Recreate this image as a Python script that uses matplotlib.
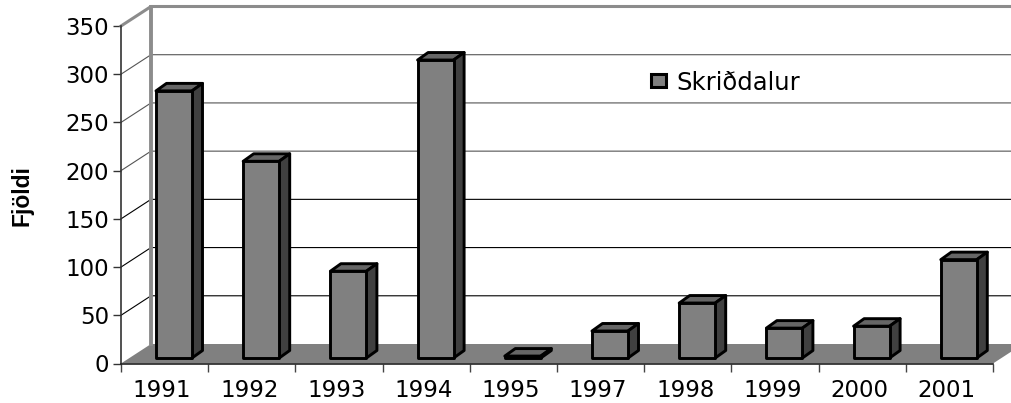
import matplotlib
matplotlib.use("Agg")
import matplotlib.pyplot as plt
from matplotlib.patches import Polygon, FancyBboxPatch

years = ['1991', '1992', '1993', '1994', '1995', '1997', '1998', '1999', '2000', '2001']
fjoldi = [277, 204, 90, 309, 2, 28, 57, 31, 33, 102]
yticks = [0, 50, 100, 150, 200, 250, 300, 350]

W, H = 1012, 403
x0, x1, y0, y1 = 121, 993, 363.5, 26

plt.rcParams['font.family'] = ['DejaVu Sans']
fig = plt.figure(figsize=(W / 100, H / 100), dpi=100)
ax = fig.add_axes([x0 / W, 1 - y0 / H, (x1 - x0) / W, (y0 - y1) / H])
ax.set_xlim(0, len(years))
ax.set_ylim(0, 350)

# pixels per data unit, for the fake 3d depth
px = (x1 - x0) / len(years)
py = (y0 - y1) / 350
wall_dx, wall_dy = 30 / px, 19.5 / py
bar_w = 36 / px
bar_off = 35 / px
bar_base = 5.5 / py
bar_dx, bar_dy = 10.5 / px, 7.5 / py
n = len(years)

# floor
ax.add_patch(Polygon([(0, 0), (n, 0), (n + wall_dx, wall_dy), (wall_dx, wall_dy)],
                     fc='#808080', ec='none', zorder=1, clip_on=False))

# gridlines
for v in yticks[1:-1]:
    col = '#000000' if v <= 150 else '#555555'
    ax.plot([0, wall_dx, n + wall_dx], [v, v + wall_dy, v + wall_dy], color=col, lw=0.8,
            zorder=2, clip_on=False)

# back wall edges
ax.plot([0, wall_dx, n + wall_dx], [350, 350 + wall_dy, 350 + wall_dy], color='#8c8c8c', lw=2.2,
        zorder=2, clip_on=False, solid_joinstyle='miter')
ax.plot([wall_dx, wall_dx], [wall_dy, 350 + wall_dy], color='#8c8c8c', lw=2.8, zorder=2, clip_on=False)

# bars, front + top + side
for i, v in enumerate(fjoldi):
    l = i + bar_off
    r = l + bar_w
    b = bar_base
    t = bar_base + v
    front = [(l, b), (r, b), (r, t), (l, t)]
    top = [(l, t), (r, t), (r + bar_dx, t + bar_dy), (l + bar_dx, t + bar_dy)]
    side = [(r, b), (r + bar_dx, b + bar_dy), (r + bar_dx, t + bar_dy), (r, t)]
    ax.add_patch(Polygon(top, fc='#666666', ec='black', lw=2.1, joinstyle='round', zorder=3, clip_on=False))
    ax.add_patch(Polygon(side, fc='#404040', ec='black', lw=2.1, joinstyle='round', zorder=3, clip_on=False))
    ax.add_patch(Polygon(front, fc='#808080', ec='black', lw=2.1, joinstyle='round', zorder=4, clip_on=False))

for s in ['top', 'right']:
    ax.spines[s].set_visible(False)
ax.spines['left'].set_color('#333333')
ax.spines['bottom'].set_color('#222222')
ax.spines['left'].set_linewidth(1.2)
ax.spines['bottom'].set_linewidth(1.2)
ax.set_zorder(5)
ax.patch.set_alpha(0)

ax.set_yticks(yticks)
ax.set_xticks(range(n + 1))
ax.set_xticklabels([])
ax.set_xticks([i + 0.47 for i in range(n)], labels=years, minor=True)
ax.tick_params(axis='x', which='minor', length=0, pad=11, labelsize=16.5)
ax.tick_params(axis='x', which='major', length=5.5, width=1, color='#444444')
ax.tick_params(axis='y', length=5.5, width=1, color='#333333', pad=3, labelsize=16.5)

fig.text(22 / W, 1 - 196 / H, 'Fjöldi', rotation=90, ha='center', va='center',
         fontsize=16.5, fontweight='bold', family='Liberation Sans')

# legend
fig.patches.append(FancyBboxPatch((651.5 / W, 1 - 87.5 / H), 15 / W, 13 / H, boxstyle='round,pad=0',
                                  transform=fig.transFigure, fc='#808080', ec='black', lw=2.2))
fig.text(676 / W, 1 - 83 / H, 'Skriðdalur', ha='left', va='center', fontsize=17.5)

fig.savefig('out.png', dpi=100)
